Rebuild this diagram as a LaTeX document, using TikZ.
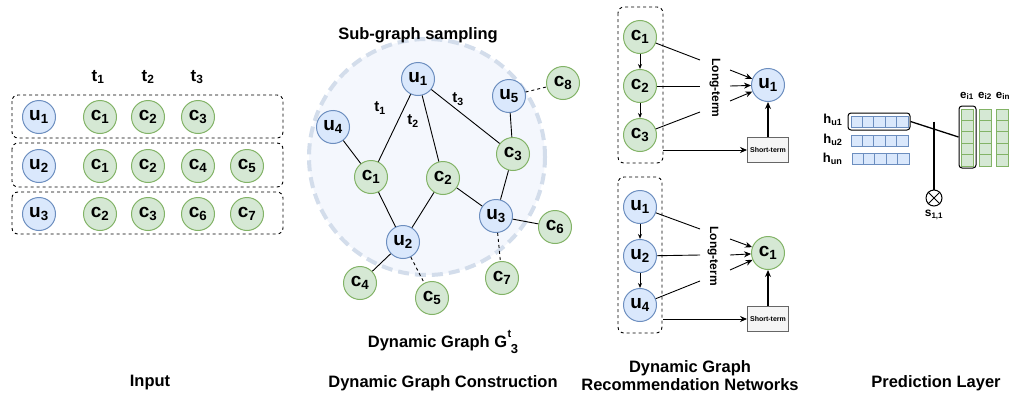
\documentclass[tikz,border=0pt]{standalone}
\usepackage{fontspec}
\setmainfont{Liberation Sans}
\usetikzlibrary{arrows.meta}

\definecolor{ublue}{HTML}{6C8EBF}
\definecolor{ufill}{HTML}{DAE8FC}
\definecolor{cgreen}{HTML}{82B366}
\definecolor{cfill}{HTML}{D5E8D4}
\definecolor{haze}{HTML}{F4F7FD}
\definecolor{hazeline}{HTML}{D3DDEB}
\definecolor{stfill}{HTML}{F5F5F5}
\definecolor{stline}{HTML}{666666}

\newcommand{\lo}[1]{\textsubscript{#1}}

\tikzset{
  base/.style={circle, minimum size=33pt, inner sep=0pt, line width=1pt,
    font=\bfseries\fontsize{19}{19}\selectfont},
  unode/.style={base, draw=ublue, fill=ufill},
  cnode/.style={base, draw=cgreen, fill=cfill},
  group/.style={draw, dashed, rounded corners=6pt, line width=0.9pt},
  title/.style={font=\bfseries\fontsize{16.5}{18}\selectfont, align=center},
  tlabel/.style={font=\bfseries\fontsize{17}{17}\selectfont},
  elabel/.style={font=\bfseries\fontsize{15}{15}\selectfont},
  edge/.style={line width=0.9pt},
  link/.style={line width=0.9pt, dashed},
  arr/.style={line width=0.9pt, -{Stealth[length=7pt,width=6pt]}},
  chain/.style={line width=0.9pt, -{Stealth[length=5pt,width=4pt]}},
  stbox/.style={draw=stline, fill=stfill, line width=0.9pt, minimum width=41pt,
    minimum height=25pt, inner sep=0pt, font=\bfseries\fontsize{7}{7}\selectfont},
  ltlabel/.style={rotate=-90, font=\bfseries\fontsize{12}{12}\selectfont},
  bcell/.style={draw=ublue, fill=ufill, line width=1pt},
  gcell/.style={draw=cgreen, fill=cfill, line width=1pt},
  frame/.style={draw, rounded corners=3pt, line width=1pt, inner sep=0pt},
  vlabel/.style={font=\bfseries\fontsize{13}{13}\selectfont}
}

\begin{document}
\begin{tikzpicture}[x=1pt, y=-1pt]
\useasboundingbox (0,0) rectangle (1012,399);

% ---------- Input ----------
\node[tlabel] (t1) at (98,77) {t\lo{1}};
\node[tlabel] (t2) at (148,77) {t\lo{2}};
\node[tlabel] (t3) at (197,77) {t\lo{3}};

\draw[group] (12,95) rectangle (283,138);
\draw[group] (12,143) rectangle (283,187);
\draw[group] (12,192) rectangle (283,234);

\node[unode] (iu1) at (39,117) {u\lo{1}};
\node[cnode] (i11) at (100,117) {c\lo{1}};
\node[cnode] (i12) at (148,117) {c\lo{2}};
\node[cnode] (i13) at (198,117) {c\lo{3}};

\node[unode] (iu2) at (39,166) {u\lo{2}};
\node[cnode] (i21) at (100,166) {c\lo{1}};
\node[cnode] (i22) at (148,166) {c\lo{2}};
\node[cnode] (i23) at (198,166) {c\lo{4}};
\node[cnode] (i24) at (247,166) {c\lo{5}};

\node[unode] (iu3) at (39,214) {u\lo{3}};
\node[cnode] (i31) at (100,214) {c\lo{2}};
\node[cnode] (i32) at (148,214) {c\lo{3}};
\node[cnode] (i33) at (198,214) {c\lo{6}};
\node[cnode] (i34) at (247,214) {c\lo{7}};

% ---------- Dynamic graph ----------
\fill[haze] (427,157) circle (118pt);
\draw[hazeline, line width=4pt, dash pattern=on 11pt off 6pt] (427,157) circle (118pt);
\node[title] (sgs) at (418,35) {Sub-graph sampling};

\node[unode] (gu1) at (418,79) {u\lo{1}};
\node[unode] (gu5) at (509,96) {u\lo{5}};
\node[cnode] (gc8) at (563,83) {c\lo{8}};
\node[unode] (gu4) at (333,127) {u\lo{4}};
\node[cnode] (gc3) at (513,154) {c\lo{3}};
\node[cnode] (gc1) at (371,177) {c\lo{1}};
\node[cnode] (gc2) at (443,178) {c\lo{2}};
\node[unode] (gu3) at (496,216) {u\lo{3}};
\node[cnode] (gc6) at (555,227) {c\lo{6}};
\node[unode] (gu2) at (403,242) {u\lo{2}};
\node[cnode] (gc4) at (360,283) {c\lo{4}};
\node[cnode] (gc5) at (432,298) {c\lo{5}};
\node[cnode] (gc7) at (502,278) {c\lo{7}};

\draw[edge] (gu1) -- (gc1);
\draw[edge] (gu1) -- (gc2);
\draw[edge] (gu1) -- (gc3);
\draw[edge] (gu4) -- (gc1);
\draw[edge] (gu5) -- (gc3);
\draw[link] (gu5) -- (gc8);
\draw[edge] (gc3) -- (gu3);
\draw[edge] (gc2) -- (gu3);
\draw[edge] (gu3) -- (gc6);
\draw[link] (gu3) -- (gc7);
\draw[edge] (gc1) -- (gu2);
\draw[edge] (gc2) -- (gu2);
\draw[edge] (gu2) -- (gc4);
\draw[link] (gu2) -- (gc5);

\node[elabel] (e1) at (380,108) {t\lo{1}};
\node[elabel] (e2) at (413,121) {t\lo{2}};
\node[elabel] (e3) at (458,99) {t\lo{3}};

\node[title] (dg) at (443,342) {Dynamic Graph
  G\kern0.5pt\raisebox{0.62em}{\fontsize{11}{11}\selectfont t}\kern-0.5pt\raisebox{-0.4em}{\fontsize{13}{13}\selectfont 3}};

% ---------- Recommendation networks: user u1 ----------
\draw[group] (618,7) rectangle (663,163);
\node[cnode] (ra1) at (640,37) {c\lo{1}};
\node[cnode] (ra2) at (640,86) {c\lo{2}};
\node[cnode] (ra3) at (640,135) {c\lo{3}};
\node[unode] (rau) at (768,85) {u\lo{1}};
\node[stbox] (rast) at (768,150) {Short-term};
\node[ltlabel] (ralt) at (715,88) {Long-term};

\coordinate (raa) at (700,60);
\coordinate (rab) at (700,86);
\coordinate (rac) at (700,112);
\coordinate (rad) at (730,70);
\coordinate (rae) at (730,86);
\coordinate (raf) at (730,101);
\coordinate (ras) at (663,150);

\draw[chain] (ra1) -- (ra2);
\draw[chain] (ra2) -- (ra3);
\draw[edge] (ra1) -- (raa);
\draw[edge] (ra2) -- (rab);
\draw[edge] (ra3) -- (rac);
\draw[arr] (rad) -- (rau);
\draw[arr] (rae) -- (rau);
\draw[arr] (raf) -- (rau);
\draw[arr] (ras) -- (rast.west);
\draw[arr, line width=1.6pt] (rast.north) -- (rau.south);

% ---------- Recommendation networks: item c1 ----------
\draw[group] (618,177) rectangle (662,333);
\node[unode] (rb1) at (640,207) {u\lo{1}};
\node[unode] (rb2) at (640,256) {u\lo{2}};
\node[unode] (rb3) at (640,305) {u\lo{4}};
\node[cnode] (rbc) at (768,253) {c\lo{1}};
\node[stbox] (rbst) at (768,319) {Short-term};
\node[ltlabel] (rblt) at (713,256) {Long-term};

\coordinate (rba) at (700,229);
\coordinate (rbb) at (700,255);
\coordinate (rbc2) at (700,281);
\coordinate (rbd) at (730,239);
\coordinate (rbe) at (730,255);
\coordinate (rbf) at (730,270);
\coordinate (rbs) at (663,319);

\draw[chain] (rb1) -- (rb2);
\draw[chain] (rb2) -- (rb3);
\draw[edge] (rb1) -- (rba);
\draw[edge] (rb2) -- (rbb);
\draw[edge] (rb3) -- (rbc2);
\draw[arr] (rbd) -- (rbc);
\draw[arr] (rbe) -- (rbc);
\draw[arr] (rbf) -- (rbc);
\draw[arr] (rbs) -- (rbst.west);
\draw[arr, line width=1.6pt] (rbst.north) -- (rbc.south);

% ---------- Prediction layer ----------
\foreach \i in {0,...,4} {
  \draw[bcell] (851+\i*11.4,116) rectangle ++(11.4,11);
  \draw[bcell] (851+\i*11.4,135) rectangle ++(11.4,11);
  \draw[bcell] (852+\i*11.4,153) rectangle ++(11.4,11);
}
\node[frame, minimum width=62pt, minimum height=17pt] (hu1) at (879,121.5) {};

\foreach \j in {0,...,4} {
  \draw[gcell] (961,109+\j*11.4) rectangle ++(12,11.4);
  \draw[gcell] (979,109+\j*11.4) rectangle ++(12,11.4);
  \draw[gcell] (996,109+\j*11.4) rectangle ++(12,11.4);
}
\node[frame, minimum width=17pt, minimum height=62pt] (ei1) at (967.5,137) {};

\node[vlabel, anchor=east] (lh1) at (846,120) {h\lo{u1}};
\node[vlabel, anchor=east] (lh2) at (846,140) {h\lo{u2}};
\node[vlabel, anchor=east] (lh3) at (846,159) {h\lo{un}};

\node[font=\bfseries\fontsize{11.5}{11.5}\selectfont] (le1) at (967,96) {e\lo{i1}};
\node[font=\bfseries\fontsize{11.5}{11.5}\selectfont] (le2) at (985,96) {e\lo{i2}};
\node[font=\bfseries\fontsize{11.5}{11.5}\selectfont] (le3) at (1003,96) {e\lo{in}};

\node[circle, draw, line width=1pt, minimum size=16pt, inner sep=0pt] (dot) at (934,198) {};
\draw[line width=1pt] (dot.45) -- (dot.225);
\draw[line width=1pt] (dot.135) -- (dot.-45);
\node[font=\bfseries\fontsize{12}{12}\selectfont] (sc) at (934,215) {s\lo{1,1}};

\coordinate (jn) at (934,121.5);
\draw[line width=1.3pt] (hu1.east) -- (ei1.west);
\draw[line width=1.3pt] (jn) -- (dot.north);

% ---------- Section titles ----------
\node[title] (ttl1) at (150,383) {Input};
\node[title] (ttl2) at (443,383) {Dynamic Graph Construction};
\node[title] (ttl3) at (690,376) {Dynamic Graph\\Recommendation Networks};
\node[title] (ttl4) at (936,383) {Prediction Layer};
\end{tikzpicture}
\end{document}
